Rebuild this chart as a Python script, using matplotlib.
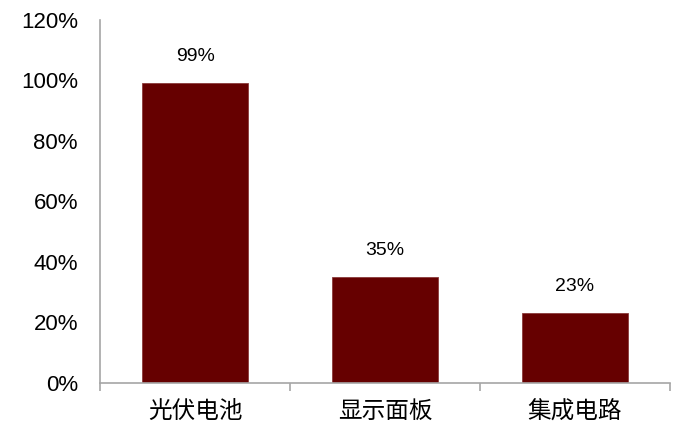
import matplotlib
matplotlib.use("Agg")
import matplotlib.pyplot as plt
from matplotlib.ticker import FuncFormatter, FixedLocator

plt.rcParams['font.family'] = ['Liberation Sans', 'Noto Sans CJK SC', 'DejaVu Sans']

categories = ['光伏电池', '显示面板', '集成电路']
values = [0.99, 0.35, 0.23]
labels = ['99%', '35%', '23%']

fig = plt.figure(figsize=(7, 4.34), dpi=100)
ax = fig.add_axes([0.143, 0.1175, 0.814, 0.8365])

x = list(range(len(categories)))
ax.bar(x, values, width=0.56, color='#660000', edgecolor='#8a3a3a', linewidth=0.6)

for xi, v, lab in zip(x, values, labels):
    ax.text(xi, v + 0.06, lab, ha='center', va='bottom', fontsize=14, color='black')

ax.set_xlim(-0.5, len(categories) - 0.5)
ax.set_ylim(0, 1.2)
ax.set_yticks([0, 0.2, 0.4, 0.6, 0.8, 1.0, 1.2])
ax.yaxis.set_major_formatter(FuncFormatter(lambda v, p: f"{v*100:.0f}%"))
ax.tick_params(axis='y', length=0, pad=16, labelsize=16)

ax.set_xticks(x)
ax.set_xticklabels(categories, fontsize=17, family=['Noto Sans CJK SC', 'DejaVu Sans'])
ax.tick_params(axis='x', which='major', length=0, pad=12)
ax.xaxis.set_minor_locator(FixedLocator([-0.5, 0.5, 1.5, 2.5]))
ax.tick_params(axis='x', which='minor', length=6, color='#a6a6a6', width=1.2, direction='out')

for s in ['top', 'right']:
    ax.spines[s].set_visible(False)
for s in ['left', 'bottom']:
    ax.spines[s].set_color('#a6a6a6')
    ax.spines[s].set_linewidth(1.2)

fig.savefig('out.png', dpi=100, facecolor='white')
